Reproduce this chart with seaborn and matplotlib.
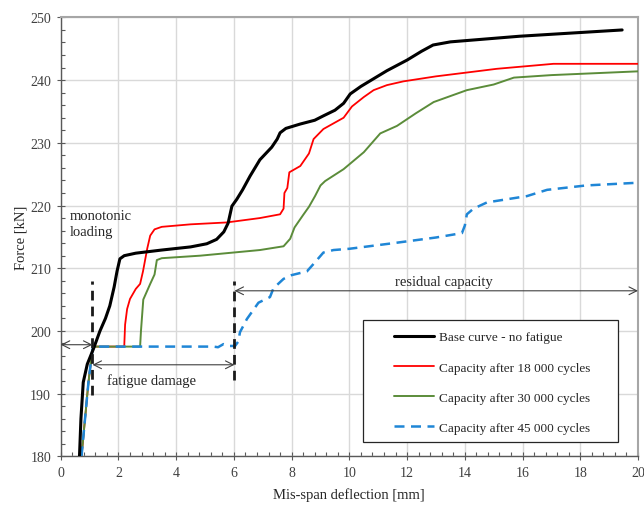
import numpy as np
import pandas as pd
import seaborn as sns
import matplotlib
matplotlib.use("Agg")
import matplotlib.pyplot as plt
from matplotlib.patches import Rectangle
from matplotlib.ticker import MultipleLocator

# ---------------- data ----------------
base_x = [0.65, 0.70, 0.78, 0.92, 1.13, 1.36, 1.55, 1.70, 1.85, 1.95, 2.05, 2.20, 2.60, 3.50,
          4.50, 5.06, 5.40, 5.65, 5.80, 5.93, 6.10, 6.30, 6.56, 6.90, 7.31, 7.50, 7.60, 7.80,
          8.30, 8.80, 9.10, 9.50, 9.80, 10.03, 10.40, 11.30, 12.00, 12.50, 12.90, 13.50,
          15.90, 19.45]
base_y = [180.0, 186.0, 191.8, 194.7, 197.1, 200.0, 202.0, 204.0, 207.0, 209.5, 211.5, 212.0,
          212.4, 212.9, 213.4, 213.9, 214.6, 215.8, 217.2, 219.9, 221.0, 222.5, 224.7, 227.3,
          229.3, 230.6, 231.6, 232.3, 233.0, 233.6, 234.3, 235.2, 236.3, 237.8, 239.0, 241.5,
          243.2, 244.6, 245.6, 246.1, 247.0, 248.0]

c18_x = [0.72, 0.96, 1.10, 1.19, 2.20, 2.23, 2.30, 2.40, 2.60, 2.75, 2.85, 3.00, 3.10, 3.25,
         3.50, 4.50, 5.75, 6.90, 7.60, 7.72, 7.75, 7.85, 7.92, 8.30, 8.60, 8.76, 9.10, 9.80,
         10.09, 10.50, 10.84, 11.30, 11.87, 13.00, 15.10, 17.07, 20.00]
c18_y = [180.0, 191.8, 197.1, 197.5, 197.5, 201.0, 203.5, 205.1, 206.7, 207.5, 209.5, 213.2,
         215.2, 216.2, 216.6, 217.0, 217.3, 218.0, 218.6, 219.5, 222.0, 222.8, 225.3, 226.3,
         228.3, 230.6, 232.2, 234.0, 235.8, 237.3, 238.4, 239.2, 239.8, 240.6, 241.8, 242.6,
         242.6]

c30_x = [0.72, 0.96, 1.10, 1.19, 2.75, 2.78, 2.86, 3.10, 3.25, 3.33, 3.50, 4.83, 6.90, 7.72,
         7.95, 8.10, 8.40, 8.60, 8.81, 9.00, 9.16, 9.80, 10.50, 11.07, 11.65, 12.30, 12.92,
         14.07, 15.00, 15.70, 17.00, 20.00]
c30_y = [180.0, 191.8, 197.1, 197.5, 197.5, 200.0, 205.0, 207.5, 209.0, 211.3, 211.6, 212.0,
         212.9, 213.5, 214.7, 216.5, 218.5, 219.8, 221.5, 223.2, 223.9, 225.8, 228.5, 231.5,
         232.7, 234.7, 236.5, 238.4, 239.3, 240.4, 240.8, 241.4]

c45_x = [0.72, 0.96, 1.10, 1.19, 5.29, 5.45, 5.64, 5.85, 6.04, 6.15, 6.21, 6.45, 6.85, 7.25,
         7.37, 7.72, 8.00, 8.53, 8.80, 9.10, 9.45, 10.00, 11.53, 13.00, 13.90, 14.00, 14.07,
         14.30, 14.77, 16.15, 16.85, 18.20, 19.85]
c45_y = [180.0, 191.8, 197.1, 197.5, 197.5, 197.4, 197.9, 197.6, 197.6, 198.3, 199.8, 201.9,
         204.5, 205.4, 206.8, 208.3, 208.9, 209.5, 210.9, 212.5, 212.9, 213.1, 214.0, 214.9,
         215.6, 216.8, 218.6, 219.5, 220.5, 221.5, 222.5, 223.2, 223.6]

labels = ["Base curve - no fatigue",
          "Capacity after 18 000 cycles",
          "Capacity after 30 000 cycles",
          "Capacity after 45 000 cycles"]
x_ticks = [0, 2, 4, 6, 8, 10, 12, 14, 16, 18, 20]
y_ticks = [180, 190, 200, 210, 220, 230, 240, 250]

# ---------------- style ----------------
sns.set_style("whitegrid")
plt.rcParams["font.family"] = ["Liberation Serif", "DejaVu Serif"]
plt.rcParams["text.color"] = "#262626"

fig = plt.figure(figsize=(6.44, 5.06), dpi=100)
ax = fig.add_axes([0.0943, 0.0962, 0.8964, 0.8674])

series = [
    (c18_x, c18_y, labels[1], "#ff0000", 1.3, "-"),
    (c30_x, c30_y, labels[2], "#5b8c3a", 1.4, "-"),
    (c45_x, c45_y, labels[3], "#1f86d6", 1.8, (0, (4, 2.6))),
    (base_x, base_y, labels[0], "black", 2.2, "-"),
]
handles = {}
for xs, ys, lab, col, lw, ls in series:
    df = pd.DataFrame({"x": xs, "y": ys})
    sns.lineplot(data=df, x="x", y="y", ax=ax, color=col, linewidth=lw,
                 sort=False, estimator=None, label=lab, zorder=4)
    line = ax.get_lines()[-1]
    line.set_linestyle(ls)
    handles[lab] = line

ax.set_xlim(0, 20)
ax.set_ylim(180, 250)
ax.set_xticks(x_ticks)
ax.set_yticks(y_ticks)
ax.xaxis.set_minor_locator(MultipleLocator(0.4))
ax.yaxis.set_minor_locator(MultipleLocator(2))
ax.grid(True, which="major", color="#d9d9d9", linewidth=1.0)
ax.grid(False, which="minor")
ax.tick_params(axis="both", which="major", direction="inout", length=6, width=0.8,
               color="#595959", labelsize=10, labelcolor="#404040", pad=4,
               bottom=True, left=True)
ax.tick_params(axis="x", which="minor", direction="in", length=3, width=0.8,
               color="#595959", bottom=True)
ax.tick_params(axis="y", which="minor", direction="in", length=3, width=0.8,
               color="#595959", left=True)
for side in ["left", "bottom"]:
    ax.spines[side].set_color("#595959")
    ax.spines[side].set_linewidth(1.0)
for side in ["top", "right"]:
    ax.spines[side].set_color("#a6a6a6")
    ax.spines[side].set_linewidth(1.5)
ax.set_xlabel("Mis-span deflection [mm]", fontsize=10.5, color="#262626", labelpad=6)
ax.set_ylabel("Force [kN]", fontsize=10.5, color="#262626", labelpad=2)

# ---------------- annotations ----------------
ax.plot([1.1, 1.1], [189.8, 207.9], color="#1a1a1a", lw=2.0, ls=(0, (3.5, 2.2)), zorder=5)
ax.plot([6.02, 6.02], [192.1, 207.9], color="#1a1a1a", lw=2.0, ls=(0, (3.5, 2.2)), zorder=5)
arrow_kw = dict(arrowstyle="<->", color="#404040", lw=0.8, mutation_scale=14,
                shrinkA=0, shrinkB=0)
ax.annotate("", xy=(0, 197.8), xytext=(1.1, 197.8), arrowprops=arrow_kw, zorder=6)
ax.annotate("", xy=(1.1, 194.6), xytext=(6.02, 194.6), arrowprops=arrow_kw, zorder=6)
ax.annotate("", xy=(6.02, 206.4), xytext=(20, 206.4), arrowprops=arrow_kw, zorder=6,
            annotation_clip=False)
ax.text(3.15, 192.2, "fatigue damage", ha="center", va="center", fontsize=10.5, color="#262626")
ax.text(13.26, 207.9, "residual capacity", ha="center", va="center", fontsize=10.5, color="#262626")
ax.text(0.3, 217.1, "monotonic\nloading", ha="left", va="center", fontsize=10.5,
        color="#262626", linespacing=1.25)

# ---------------- legend ----------------
ax.add_patch(Rectangle((0.524, 0.032), 0.441, 0.278, transform=ax.transAxes,
                       facecolor="white", edgecolor="#262626", linewidth=0.9, zorder=7))
if ax.get_legend() is not None:
    ax.get_legend().remove()
leg = ax.legend([handles[l] for l in labels], labels, loc="upper left",
                bbox_to_anchor=(0.578, 0.285), frameon=False, fontsize=9.5,
                handlelength=3.0, handletextpad=0.35, labelspacing=1.35,
                borderpad=0, borderaxespad=0)
leg.set_zorder(8)
for t in leg.get_texts():
    t.set_color("#262626")

fig.savefig("out.png", dpi=100)
